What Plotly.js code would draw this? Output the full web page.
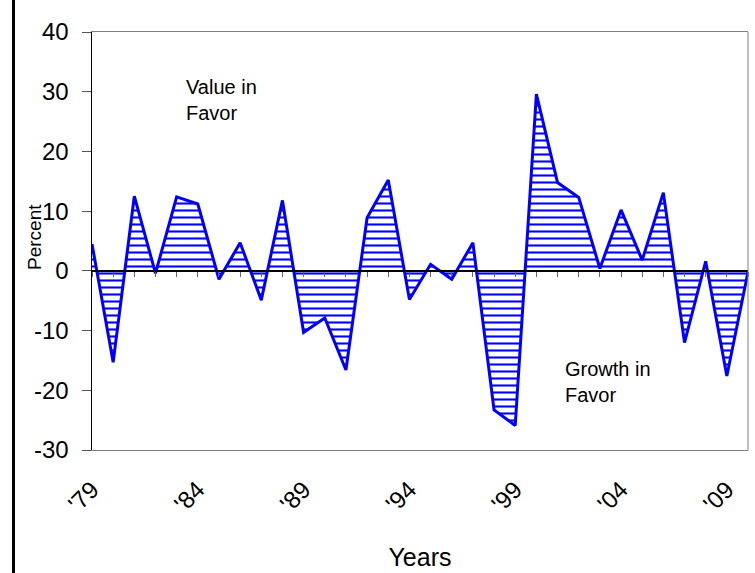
<!DOCTYPE html>
<html>
<head>
<meta charset="utf-8">
<script src="https://cdn.plot.ly/plotly-3.0.1.min.js"></script>
<style>
  html, body { margin: 0; padding: 0; background: #ffffff; }
  #wrap { position: relative; width: 755px; height: 573px; }
  #chart { width: 755px; height: 573px; }
  #edge { position: absolute; left: 12px; top: 0; width: 3px; height: 573px; background: #000; pointer-events: none; }
</style>
</head>
<body>
<div id="wrap">
  <div id="chart"></div>
  <div id="edge"></div>
</div>
<script>
// ---- data ----
const years = [1979, 1980, 1981, 1982, 1983, 1984, 1985, 1986, 1987, 1988,
               1989, 1990, 1991, 1992, 1993, 1994, 1995, 1996, 1997, 1998,
               1999, 2000, 2001, 2002, 2003, 2004, 2005, 2006, 2007, 2008,
               2009, 2010];
const percent = [4.5, -15.3, 12.5, -0.4, 12.4, 11.2, -1.4, 4.7, -4.9, 11.8,
                 -10.3, -7.9, -16.6, 8.9, 15.2, -4.8, 1.1, -1.4, 4.7, -23.3,
                 -25.9, 29.6, 14.8, 12.3, 0.4, 10.2, 1.8, 13.1, -12.0, 1.6,
                 -17.6, -0.2];
const xTickVals = [1979, 1984, 1989, 1994, 1999, 2004, 2009];
const xTickText = ["'79", "'84", "'89", "'94", "'99", "'04", "'09"];
const yTickVals = [-30, -20, -10, 0, 10, 20, 30, 40];
const yTickText = ["-30", "-20", "-10", "0", "10", "20", "30", "40"];
const xRange = [1979, 2010];
const yRange = [-30, 40];

const FONT = "Arial, 'Liberation Sans', sans-serif";
const BLUE = "#0000ff";

const traces = [
  {
    x: years, y: percent, type: "scatter", mode: "lines",
    xaxis: "x", yaxis: "y",
    fill: "tozeroy",
    fillcolor: "rgba(255,255,255,0)",
    fillpattern: { shape: "-", fgcolor: BLUE, bgcolor: "#ffffff", size: 7, solidity: 0.3 },
    line: { color: BLUE, width: 0 },
    hoverinfo: "skip", showlegend: false
  },
  {
    x: years, y: percent, type: "scatter", mode: "lines",
    xaxis: "x2", yaxis: "y",
    line: { color: BLUE, width: 3 },
    showlegend: false
  }
];

const layout = {
  width: 755, height: 573,
  margin: { l: 92, r: 7, t: 32, b: 123 },
  paper_bgcolor: "#ffffff", plot_bgcolor: "#ffffff",
  font: { family: FONT, color: "#000" },
  showlegend: false,
  xaxis: {
    range: xRange, tickvals: xTickVals, ticktext: xTickText,
    tickangle: -45, ticks: "", showgrid: false, zeroline: false,
    showline: true, linecolor: "#808080", linewidth: 1, mirror: true,
    ticklabelstandoff: 15,
    tickfont: { size: 24, family: FONT, color: "#000" },
    title: { text: "Years", font: { size: 25, family: FONT, color: "#000" }, standoff: 32 }
  },
  xaxis2: {
    overlaying: "x", anchor: "free",
    position: (0 - yRange[0]) / (yRange[1] - yRange[0]),
    range: xRange, tick0: xRange[0], dtick: 1,
    ticks: "outside", ticklen: 5, tickwidth: 1, tickcolor: "#666",
    showticklabels: false, showgrid: false, zeroline: false,
    showline: true, linecolor: "#000", linewidth: 2
  },
  yaxis: {
    range: yRange, tickvals: yTickVals, ticktext: yTickText,
    ticks: "outside", ticklen: 9, tickwidth: 1, tickcolor: "#555",
    ticklabelstandoff: 8,
    showgrid: false, zeroline: false,
    showline: true, linecolor: "#000", linewidth: 1.5,
    tickfont: { size: 24, family: FONT, color: "#000" }
  },
  shapes: [
    { type: "line", xref: "paper", yref: "paper", x0: 1, x1: 1, y0: 0, y1: 1,
      line: { color: "#808080", width: 1 } }
  ],
  annotations: [
    { text: "Percent", xref: "paper", yref: "paper", x: 0, y: 0.5,
      xshift: -58, yshift: 4, textangle: -90, showarrow: false,
      xanchor: "center", yanchor: "middle",
      font: { size: 19, family: FONT, color: "#000" } },
    { text: "Value in<br>Favor", xref: "x", yref: "y", x: 1983.35, y: 28.6,
      xanchor: "left", yanchor: "middle", align: "left", showarrow: false,
      font: { size: 20, family: FONT, color: "#000" } },
    { text: "Growth in<br>Favor", xref: "x", yref: "y", x: 2001.26, y: -18.6,
      xanchor: "left", yanchor: "middle", align: "left", showarrow: false,
      font: { size: 20, family: FONT, color: "#000" } }
  ]
};

Plotly.newPlot("chart", traces, layout, { displayModeBar: false, staticPlot: true });
</script>
</body>
</html>
